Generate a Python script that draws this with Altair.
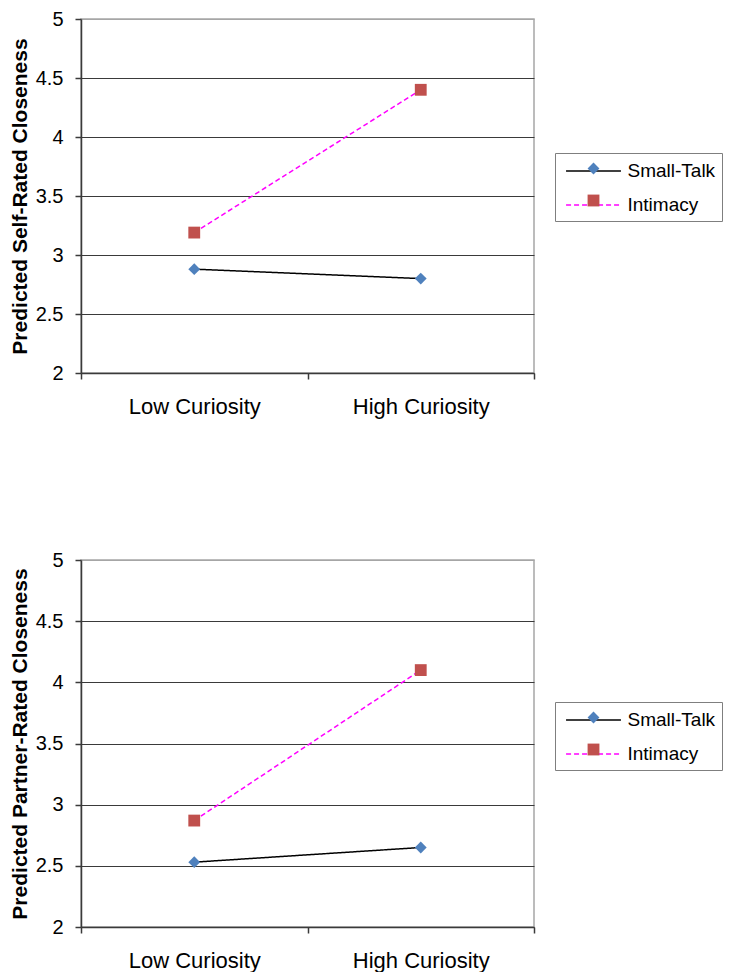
import altair as alt
import pandas as pd

curiosity = ["Low Curiosity", "High Curiosity"]
series = ["Small-Talk", "Intimacy"]
self_small_talk = [2.88, 2.80]
self_intimacy = [3.19, 4.40]
partner_small_talk = [2.53, 2.65]
partner_intimacy = [2.87, 4.10]
y_ticks = [2, 2.5, 3, 3.5, 4, 4.5, 5]
y_titles = ["Predicted Self-Rated Closeness", "Predicted Partner-Rated Closeness"]

line_colors = ["#000000", "#FF00FF"]
marker_colors = ["#4F81BD", "#C0504D"]
dash_styles = [[1, 0], [5, 3]]
marker_shapes = ["diamond", "square"]

FONT = "Liberation Sans"


def frame(small_talk, intimacy):
    rows = []
    for name, vals in zip(series, [small_talk, intimacy]):
        for c, v in zip(curiosity, vals):
            rows.append({"curiosity": c, "series": name, "marker": name, "value": v})
    return pd.DataFrame(rows)


def panel(df, title, height, legend_y):
    x = alt.X(
        "curiosity:N", sort=curiosity, bandPosition=0.5,
        scale=alt.Scale(type="band", paddingInner=0, paddingOuter=0),
        axis=alt.Axis(title=None, labelAngle=0, tickBand="extent", grid=False,
                      labelFontSize=22, labelPadding=17, tickSize=6),
    )
    y = alt.Y(
        "value:Q", scale=alt.Scale(domain=[2, 5], nice=False, zero=False),
        axis=alt.Axis(
            title=title, values=y_ticks, format="~g", labelFontSize=20,
            labelPadding=12, tickSize=6, titleFontSize=21, titleFontWeight="bold",
            titlePadding=5,
            gridColor={"condition": {"test": "datum.value >= 5", "value": "#A6A6A6"},
                       "value": "#3A3A3A"},
        ),
    )
    line_legend = alt.Legend(
        title=None, orient="none", legendX=474, legendY=legend_y,
        symbolType="M-2.44,0H2.44", symbolSize=506, symbolStrokeWidth=1.5,
        labelFontSize=19, labelOffset=22, symbolOffset=20.5, padding=6,
        labelExpr="datum.label + ' '",
        strokeColor="#7F7F7F", fillColor="#FFFFFF", rowPadding=12,
        labelFont=FONT, labelColor="#000000",
    )
    marker_legend = alt.Legend(
        title=None, orient="none", legendX=506.5, legendY=legend_y + 9.5,
        symbolSize=140, symbolStrokeWidth=0, symbolOpacity=1,
        labelExpr="''", rowPadding=20, padding=0,
    )
    lines = alt.Chart(df).mark_line(strokeWidth=1.5).encode(
        x=x, y=y,
        stroke=alt.Stroke("series:N", sort="descending",
                          scale=alt.Scale(range=line_colors), legend=line_legend),
        strokeDash=alt.StrokeDash("series:N", sort="descending",
                                  scale=alt.Scale(range=dash_styles), legend=line_legend),
    )
    points = alt.Chart(df).mark_point(filled=True, opacity=1, size=140, strokeWidth=0).encode(
        x=x, y=y,
        fill=alt.Fill("marker:N", sort="descending",
                      scale=alt.Scale(range=marker_colors), legend=marker_legend),
        shape=alt.Shape("marker:N", sort="descending",
                        scale=alt.Scale(range=marker_shapes), legend=marker_legend),
    )
    return alt.layer(lines, points).properties(width=453, height=height)


top = panel(frame(self_small_talk, self_intimacy), y_titles[0], 354, 134)
bottom = panel(frame(partner_small_talk, partner_intimacy), y_titles[1], 367, 142)

chart = (
    alt.vconcat(top, bottom, spacing=131)
    .resolve_scale(stroke="independent", strokeDash="independent",
                   fill="independent", shape="independent")
    .properties(padding=0, background="#FFFFFF")
    .configure_view(stroke="#A6A6A6", strokeWidth=1.5)
    .configure_axis(labelFont=FONT, titleFont=FONT, labelColor="#000000",
                    titleColor="#000000", domainColor="#3A3A3A", tickColor="#3A3A3A",
                    domainWidth=1.5, tickWidth=1.5)
    .configure_legend(labelFont=FONT)
)

chart.save("out.html", embed_options={"renderer": "svg", "actions": False})
